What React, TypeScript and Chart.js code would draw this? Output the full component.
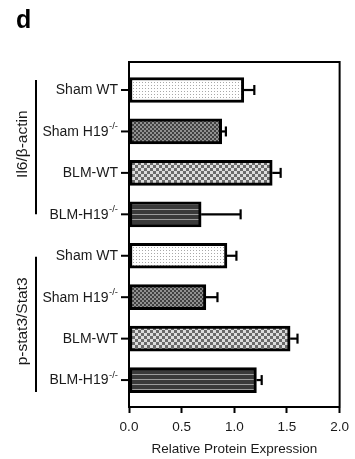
import React, { useEffect, useRef } from "react";
import { Chart, registerables } from "chart.js";

Chart.register(...registerables);

// ---- data ----
const categories = ["Sham WT", "Sham H19", "BLM-WT", "BLM-H19", "Sham WT", "Sham H19", "BLM-WT", "BLM-H19"];
const superscripts = ["", "-/-", "", "-/-", "", "-/-", "", "-/-"];
const means = [1.09, 0.88, 1.36, 0.685, 0.93, 0.73, 1.53, 1.21];
const errors = [0.10, 0.04, 0.08, 0.375, 0.09, 0.11, 0.07, 0.05];
const patternKinds = ["dots", "fine", "checker", "stripes", "dots", "fine", "checker", "stripes"];
const groupLabels = ["Il6/β-actin", "p-stat3/Stat3"];
const groupStart = [0, 4];
const groupEnd = [3, 7];
const xTicks = [0, 0.5, 1.0, 1.5, 2.0];
const xTitle = "Relative Protein Expression";
const panelLetter = "d";

const FONT = "'Liberation Sans', Arial, Helvetica, sans-serif";

function makePattern(kind: string): CanvasPattern | string {
  const c = document.createElement("canvas");
  const ctx = c.getContext("2d")!;
  if (kind === "dots") {
    c.width = 3; c.height = 3;
    ctx.fillStyle = "#ffffff"; ctx.fillRect(0, 0, 3, 3);
    ctx.fillStyle = "#a8a8a8"; ctx.fillRect(1, 1, 1, 1);
  } else if (kind === "fine") {
    c.width = 4; c.height = 4;
    ctx.fillStyle = "#909090"; ctx.fillRect(0, 0, 4, 4);
    ctx.fillStyle = "#404040"; ctx.fillRect(0, 0, 2, 2); ctx.fillRect(2, 2, 2, 2);
  } else if (kind === "checker") {
    c.width = 6; c.height = 6;
    ctx.fillStyle = "#dcdcdc"; ctx.fillRect(0, 0, 6, 6);
    ctx.fillStyle = "#6a6a6a"; ctx.fillRect(0, 0, 3, 3); ctx.fillRect(3, 3, 3, 3);
  } else {
    c.width = 2; c.height = 5;
    ctx.fillStyle = "#3a3a3a"; ctx.fillRect(0, 0, 2, 5);
    ctx.fillStyle = "#9c9c9c"; ctx.fillRect(0, 4, 2, 1);
  }
  return ctx.createPattern(c, "repeat") || "#888";
}

const Y_MIN = -0.676;
const Y_MAX = 7.65;

const decorPlugin = {
  id: "decor",
  afterDatasetsDraw(chart: any) {
    const ctx = chart.ctx as CanvasRenderingContext2D;
    const xs = chart.scales.x;
    const meta = chart.getDatasetMeta(0);
    ctx.save();
    ctx.strokeStyle = "#000";
    ctx.lineWidth = 2.2;
    meta.data.forEach((bar: any, i: number) => {
      const xEnd = xs.getPixelForValue(means[i] + errors[i]);
      const y = bar.y;
      ctx.beginPath();
      ctx.moveTo(bar.x, y);
      ctx.lineTo(xEnd, y);
      ctx.stroke();
      ctx.beginPath();
      ctx.moveTo(xEnd, y - 5);
      ctx.lineTo(xEnd, y + 5);
      ctx.stroke();
    });
    ctx.restore();
  },
  afterDraw(chart: any) {
    const ctx = chart.ctx as CanvasRenderingContext2D;
    const ys = chart.scales.y;
    const area = chart.chartArea;
    ctx.save();
    ctx.strokeStyle = "#000";
    ctx.lineWidth = 2;
    ctx.beginPath();
    ctx.moveTo(area.left - 1, area.top);
    ctx.lineTo(area.right, area.top);
    ctx.lineTo(area.right, area.bottom + 1);
    ctx.stroke();

    const mainFont = `14px ${FONT}`;
    const supFont = `9.5px ${FONT}`;
    categories.forEach((lab, i) => {
      const y = ys.getPixelForValue(i);
      ctx.strokeStyle = "#000";
      ctx.lineWidth = 2;
      ctx.beginPath();
      ctx.moveTo(area.left - 8, y);
      ctx.lineTo(area.left, y);
      ctx.stroke();
      ctx.fillStyle = "#1a1a1a";
      ctx.textBaseline = "middle";
      const sup = superscripts[i];
      let right = area.left - 11;
      if (sup) {
        ctx.font = supFont;
        const w = ctx.measureText(sup).width;
        ctx.textAlign = "left";
        ctx.fillText(sup, right - w, y - 5);
        right = right - w - 0.5;
      }
      ctx.font = mainFont;
      ctx.textAlign = "right";
      ctx.fillText(lab, right, y + 0.5);
    });

    groupLabels.forEach((g, k) => {
      const y0 = ys.getPixelForValue(groupStart[k]);
      const y1 = ys.getPixelForValue(groupEnd[k]);
      const top = k === 0 ? y0 - 10 : y0 + 1;
      const bot = k === 0 ? y1 : y1 + 12;
      ctx.strokeStyle = "#000";
      ctx.lineWidth = 2;
      ctx.beginPath();
      ctx.moveTo(36, top);
      ctx.lineTo(36, bot);
      ctx.stroke();
      ctx.save();
      ctx.translate(23, (top + bot) / 2 - 3);
      ctx.rotate(-Math.PI / 2);
      ctx.font = `15.5px ${FONT}`;
      ctx.fillStyle = "#1a1a1a";
      ctx.textAlign = "center";
      ctx.textBaseline = "middle";
      ctx.fillText(g, 0, 0);
      ctx.restore();
    });

    ctx.font = `bold 25px ${FONT}`;
    ctx.fillStyle = "#000";
    ctx.textAlign = "left";
    ctx.textBaseline = "alphabetic";
    ctx.fillText(panelLetter, 16, 28);
    ctx.restore();
  },
};

export default function App() {
  const ref = useRef<HTMLCanvasElement | null>(null);
  useEffect(() => {
    document.body.style.margin = "0";
    const canvas = ref.current!;
    const chart = new Chart(canvas, {
      type: "bar",
      data: {
        datasets: [
          {
            data: means.map((v, i) => ({ x: v, y: i })),
            backgroundColor: patternKinds.map((k) => makePattern(k)) as any,
            borderColor: "#000",
            borderWidth: 3,
            borderSkipped: false,
            barThickness: 25,
          } as any,
        ],
      },
      options: {
        indexAxis: "y",
        animation: false,
        responsive: false,
        devicePixelRatio: 1,
        layout: { padding: { left: 0, right: 13, top: 62, bottom: 0 } },
        plugins: { legend: { display: false }, tooltip: { enabled: false } },
        scales: {
          y: {
            type: "linear",
            reverse: true,
            offset: false,
            min: Y_MIN,
            max: Y_MAX,
            ticks: { display: false },
            grid: { display: false },
            border: { display: true, color: "#000", width: 2 },
            afterFit: (s: any) => { s.width = 129; },
          },
          x: {
            type: "linear",
            min: 0,
            max: 2,
            afterBuildTicks: (s: any) => { s.ticks = xTicks.map((v) => ({ value: v })); },
            ticks: {
              padding: 6,
              color: "#1a1a1a",
              font: { family: FONT, size: 13.5 },
              callback: (v: any) => Number(v).toFixed(1),
              maxRotation: 0,
            },
            grid: {
              display: true,
              drawOnChartArea: false,
              drawTicks: true,
              tickLength: 6,
              tickWidth: 2,
              tickColor: "#000",
            },
            border: { display: true, color: "#000", width: 2 },
            title: {
              display: true,
              text: xTitle,
              color: "#1a1a1a",
              font: { family: FONT, size: 13.5 },
              padding: { top: 0, bottom: 2 },
            },
            afterFit: (s: any) => { s.height = 52; },
          },
        },
      },
      plugins: [decorPlugin],
    } as any);
    return () => chart.destroy();
  }, []);
  return (
    <div style={{ position: "absolute", left: 0, top: 0, width: 355, height: 459, background: "#fff" }}>
      <canvas ref={ref} width={355} height={459} style={{ width: 355, height: 459, display: "block" }} />
    </div>
  );
}
